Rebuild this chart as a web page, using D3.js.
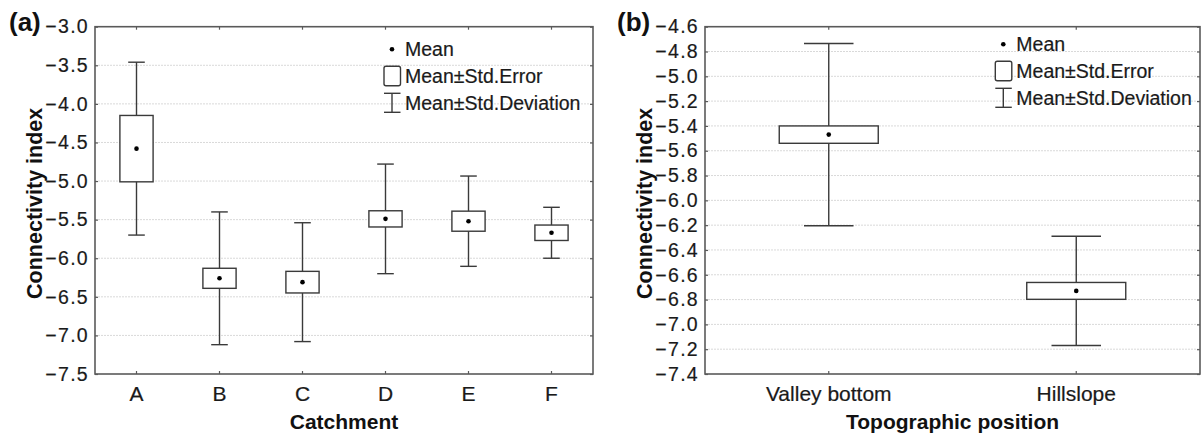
<!DOCTYPE html>
<html>
<head>
<meta charset="utf-8">
<script src="https://cdn.jsdelivr.net/npm/d3@7"></script>
<style>
  html, body { margin: 0; padding: 0; background: #fff; }
  svg { display: block; font-family: "Liberation Sans", Arial, sans-serif; }
</style>
</head>
<body>
<svg id="chart" width="1201" height="436"></svg>
<script>
// Panel (a): connectivity index by catchment
const catchments = ["A", "B", "C", "D", "E", "F"];
const catchMean = [-4.58, -6.26, -6.31, -5.49, -5.52, -5.67];
const catchSE   = [0.43, 0.13, 0.14, 0.105, 0.13, 0.10];
const catchSD   = [1.12, 0.86, 0.77, 0.71, 0.585, 0.33];
const catchTicks = [-7.5, -7.0, -6.5, -6.0, -5.5, -5.0, -4.5, -4.0, -3.5, -3.0];

// Panel (b): connectivity index by topographic position
const positions = ["Valley bottom", "Hillslope"];
const posMean = [-5.47, -6.73];
const posSE   = [0.07, 0.068];
const posSD   = [0.735, 0.44];
const posTicks = [-7.4, -7.2, -7.0, -6.8, -6.6, -6.4, -6.2, -6.0, -5.8, -5.6, -5.4, -5.2, -5.0, -4.8, -4.6];

const legendLabels = ["Mean", "Mean\u00B1Std.Error", "Mean\u00B1Std.Deviation"];

const svg = d3.select("#chart");
const lineColor = "#3a3a3a";
const frameColor = "#5a5a5a";
const fontFam = "Liberation Sans, Arial, sans-serif";

function panel(cfg) {
  const { left, right, top, bottom, cats, mean, se, sd, ticks, fmt,
          xTitle, yTitle, yTitleX, tag, tagX, legend } = cfg;
  const g = svg.append("g");

  const x = d3.scaleBand().domain(cats).range([left, right]).padding(0);
  const y = d3.scaleLinear().domain([ticks[0], ticks[ticks.length - 1]]).range([bottom, top]);

  // horizontal grid
  g.append("g").selectAll("line").data(ticks.slice(1, -1)).join("line")
    .attr("x1", left).attr("x2", right)
    .attr("y1", d => y(d)).attr("y2", d => y(d))
    .attr("stroke", "#d9d9d9").attr("stroke-width", 1)
    .attr("stroke-dasharray", "2,1");

  // axes with short inward ticks
  const axL = g.append("g").attr("transform", `translate(${left},0)`)
    .call(d3.axisLeft(y).tickValues(ticks).tickFormat(d3.format(fmt)).tickSizeInner(-3).tickSizeOuter(0).tickPadding(6));
  const axR = g.append("g").attr("transform", `translate(${right},0)`)
    .call(d3.axisRight(y).tickValues(ticks).tickFormat("").tickSizeInner(-3).tickSizeOuter(0));
  const axB = g.append("g").attr("transform", `translate(0,${bottom})`)
    .call(d3.axisBottom(x).tickSizeInner(-3).tickSizeOuter(0).tickPadding(12));
  const axT = g.append("g").attr("transform", `translate(0,${top})`)
    .call(d3.axisTop(x).tickFormat("").tickSizeInner(-3).tickSizeOuter(0));

  [axL, axR, axB, axT].forEach(a => {
    a.select(".domain").remove();
    a.selectAll(".tick line").attr("stroke", frameColor).attr("stroke-width", 1.2);
  });
  axL.selectAll(".tick text").attr("font-size", 19.5).attr("letter-spacing", 1.3)
    .attr("fill", "#1a1a1a").attr("stroke", "#1a1a1a").attr("stroke-width", 0.2)
    .attr("font-family", fontFam);
  axB.selectAll(".tick text").attr("font-size", 21).attr("fill", "#1a1a1a")
    .attr("stroke", "#1a1a1a").attr("stroke-width", 0.2)
    .attr("font-family", fontFam);

  // frame
  g.append("rect").attr("x", left).attr("y", top)
    .attr("width", right - left).attr("height", bottom - top)
    .attr("fill", "none").attr("stroke", frameColor).attr("stroke-width", 1.6);

  const bw = x.bandwidth();
  const boxW = bw * 0.4, capW = bw * 0.2;
  const data = cats.map((c, i) => ({ c, m: mean[i], se: se[i], sd: sd[i] }));
  const items = g.append("g").selectAll("g").data(data).join("g")
    .attr("transform", d => `translate(${x(d.c) + bw / 2},0)`);

  // standard deviation whiskers
  items.append("line").attr("x1", 0).attr("x2", 0)
    .attr("y1", d => y(d.m + d.sd)).attr("y2", d => y(d.m - d.sd))
    .attr("stroke", lineColor).attr("stroke-width", 1.4);
  items.append("line").attr("x1", -capW / 2).attr("x2", capW / 2)
    .attr("y1", d => y(d.m + d.sd)).attr("y2", d => y(d.m + d.sd))
    .attr("stroke", lineColor).attr("stroke-width", 1.4);
  items.append("line").attr("x1", -capW / 2).attr("x2", capW / 2)
    .attr("y1", d => y(d.m - d.sd)).attr("y2", d => y(d.m - d.sd))
    .attr("stroke", lineColor).attr("stroke-width", 1.4);

  // standard error box
  items.append("rect").attr("x", -boxW / 2).attr("width", boxW)
    .attr("y", d => y(d.m + d.se)).attr("height", d => y(d.m - d.se) - y(d.m + d.se))
    .attr("fill", "#fff").attr("stroke", lineColor).attr("stroke-width", 1.4);

  // mean point
  items.append("circle").attr("cx", 0).attr("cy", d => y(d.m)).attr("r", 2.3).attr("fill", "#000");

  // axis titles
  g.append("text").attr("x", (left + right) / 2).attr("y", 429)
    .attr("text-anchor", "middle").attr("font-size", 21).attr("font-weight", "bold")
    .attr("fill", "#111").text(xTitle);
  g.append("text")
    .attr("transform", `translate(${yTitleX},${(top + bottom) / 2 + 3}) rotate(-90)`)
    .attr("text-anchor", "middle").attr("dominant-baseline", "central")
    .attr("font-size", 21.5).attr("font-weight", "bold").attr("fill", "#111").text(yTitle);

  // panel tag
  g.append("text").attr("x", tagX).attr("y", 31)
    .attr("font-size", 26).attr("font-weight", "bold").attr("fill", "#111").text(tag);

  // legend
  const lg = g.append("g").attr("transform", `translate(${legend.x},${legend.y})`);
  lg.append("circle").attr("cx", 0).attr("cy", 0).attr("r", 2.3).attr("fill", "#000");
  lg.append("rect").attr("x", -8).attr("y", 17).attr("width", 16.5).attr("height", 19.5)
    .attr("rx", 2).attr("fill", "#fff").attr("stroke", lineColor).attr("stroke-width", 1.4);
  lg.append("line").attr("x1", 0).attr("x2", 0).attr("y1", 44).attr("y2", 63)
    .attr("stroke", lineColor).attr("stroke-width", 1.4);
  lg.append("line").attr("x1", -8).attr("x2", 8.5).attr("y1", 44).attr("y2", 44)
    .attr("stroke", lineColor).attr("stroke-width", 1.4);
  lg.append("line").attr("x1", -8).attr("x2", 8.5).attr("y1", 63).attr("y2", 63)
    .attr("stroke", lineColor).attr("stroke-width", 1.4);
  lg.selectAll("text").data(legendLabels).join("text")
    .attr("x", 13).attr("y", (d, i) => 7 + i * 26.8)
    .attr("font-size", 19.5).attr("fill", "#1a1a1a")
    .attr("stroke", "#1a1a1a").attr("stroke-width", 0.2).text(d => d);
}

panel({
  left: 95, right: 593, top: 26.7, bottom: 374,
  cats: catchments, mean: catchMean, se: catchSE, sd: catchSD,
  ticks: catchTicks, fmt: ".1f",
  xTitle: "Catchment", yTitle: "Connectivity index", yTitleX: 35,
  tag: "(a)", tagX: 9, legend: { x: 392, y: 49.3 }
});

panel({
  left: 705, right: 1200, top: 26.7, bottom: 374,
  cats: positions, mean: posMean, se: posSE, sd: posSD,
  ticks: posTicks, fmt: ".1f",
  xTitle: "Topographic position", yTitle: "Connectivity index", yTitleX: 645,
  tag: "(b)", tagX: 617, legend: { x: 1003.3, y: 44.3 }
});
</script>
</body>
</html>
